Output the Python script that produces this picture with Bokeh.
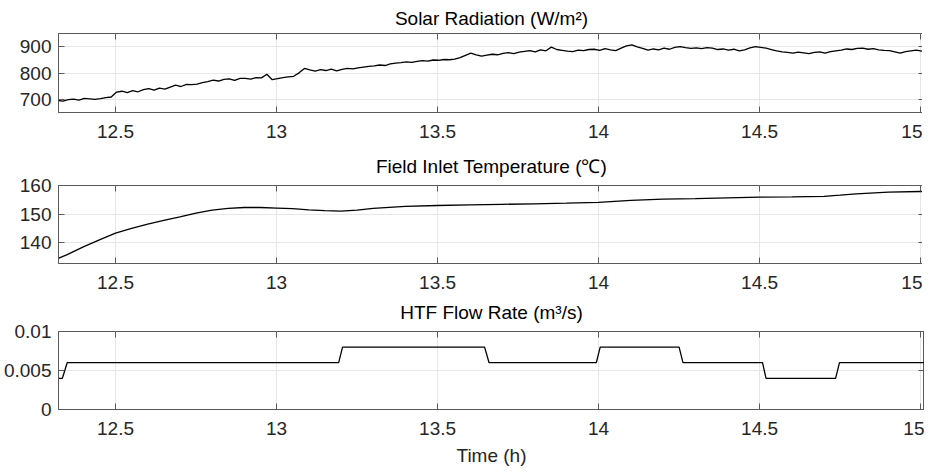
import numpy as np
from bokeh.plotting import figure
from bokeh.layouts import column
from bokeh.models import Range1d, FixedTicker, LinearAxis, Spacer
from bokeh.embed import file_html
from bokeh.resources import INLINE

# ---------------- data ----------------
solar_t0 = 12.32
solar_step = 1.0 / 60.0
solar_values = [
    696, 693, 699, 701, 697, 704, 702, 700, 703, 707, 709,
    728, 731, 726, 733, 729, 737,
    741, 735, 743, 739, 747, 754,
    749, 757, 756, 758, 764, 768,
    773, 770, 776, 778, 772, 780,
    780, 777, 783, 782, 796, 775, 779,
    783, 786, 788, 801, 818, 812,
    808, 813, 810, 815, 809, 814, 818, 816,
    820, 823, 826, 828, 831, 829, 835, 838, 840,
    843, 841, 845, 848, 846, 850, 849, 852, 851,
    853, 859, 868, 876, 870, 865,
    869, 872, 870, 875, 878, 874, 880, 883, 886,
    881, 889, 885, 899, 890, 887, 884,
    882, 888, 886, 890, 891, 887, 893, 889,
    886, 895, 904, 908, 900, 894, 888,
    892, 889, 895, 891, 898, 901, 897, 894, 896, 893,
    897, 895, 890, 892, 888, 891, 885, 889, 896, 901,
    898, 895, 890, 885, 881, 879, 876, 880, 877, 874,
    879, 881, 876, 882, 885, 888, 892, 890, 894, 895,
    891, 893, 889, 887, 886, 881, 876, 882, 885, 888,
    884, 882, 887, 885,
]
solar_time = [solar_t0 + k * solar_step for k in range(len(solar_values))]

temp_time = [12.32, 12.35, 12.40, 12.45, 12.50, 12.55, 12.60, 12.65, 12.70, 12.75,
             12.80, 12.85, 12.90, 12.95, 13.00, 13.05, 13.10, 13.15, 13.20, 13.25,
             13.30, 13.40, 13.50, 13.60, 13.70, 13.80, 13.90, 14.00, 14.10, 14.20,
             14.30, 14.40, 14.50, 14.60, 14.70, 14.75, 14.80, 14.90, 15.00, 15.05]
temp_values = [134.4, 135.8, 138.5, 141.0, 143.3, 145.0, 146.5, 147.8, 149.0, 150.3,
               151.4, 152.0, 152.3, 152.3, 152.1, 151.9, 151.5, 151.2, 151.0, 151.4,
               152.0, 152.7, 153.0, 153.2, 153.4, 153.6, 153.8, 154.1, 154.8, 155.2,
               155.4, 155.7, 155.9, 156.0, 156.2, 156.6, 157.1, 157.7, 157.9, 158.0]

flow_time = [12.32, 12.335, 12.35, 13.193, 13.205, 13.646, 13.66, 13.993, 14.005,
             14.25, 14.262, 14.509, 14.52, 14.736, 14.748, 15.06]
flow_values = [0.004, 0.004, 0.006, 0.006, 0.008, 0.008, 0.006, 0.006, 0.008,
               0.008, 0.006, 0.006, 0.004, 0.004, 0.006, 0.006]

x_ticks = [12.5, 13, 13.5, 14, 14.5, 15]
x_tick_labels = ["12.5", "13", "13.5", "14", "14.5", "15"]
solar_ticks = [700, 800, 900]
solar_tick_labels = ["700", "800", "900"]
temp_ticks = [140, 150, 160]
temp_tick_labels = ["140", "150", "160"]
flow_ticks = [0, 0.005, 0.01]
flow_tick_labels = ["0", "0.005", "0.01"]

titles = ["Solar Radiation (W/m\u00b2)", "Field Inlet Temperature (\u2103)", "HTF Flow Rate (m\u00b3/s)"]

# ---------------- styling ----------------
FONT = "Liberation Sans"
FS = "19px"
AX = "#5a5a5a"
GRID = "#e6e6e6"
TXT = "#262626"
FRAME_W = 866

x_range = Range1d(12.323, 15.012)


def make_panel(title, frame_h, title_standoff, y_start, y_end, yticks, ylabels, xlabel=None):
    p = figure(frame_width=FRAME_W, frame_height=frame_h, x_range=x_range,
               y_range=Range1d(y_start, y_end),
               output_backend="svg", toolbar_location=None,
               min_border_left=56, min_border_right=0,
               min_border_top=0, min_border_bottom=0)
    p.title.text = title
    p.title.text_font = FONT
    p.title.text_font_size = FS
    p.title.text_font_style = "normal"
    p.title.text_color = "#000000"
    p.title.align = "center"
    p.title.standoff = title_standoff
    p.title.offset = 0
    p.outline_line_color = AX
    p.outline_line_alpha = 1.0
    p.background_fill_color = "white"
    p.border_fill_color = "white"

    xt = FixedTicker(ticks=x_ticks)
    yt = FixedTicker(ticks=yticks)
    p.xaxis.ticker = xt
    p.yaxis.ticker = yt
    p.xaxis.major_label_overrides = dict(zip(x_ticks, x_tick_labels))
    p.yaxis.major_label_overrides = dict(zip(yticks, ylabels))
    for ax in (p.xaxis[0], p.yaxis[0]):
        ax.major_label_text_font = FONT
        ax.major_label_text_font_size = FS
        ax.major_label_text_color = TXT
        ax.axis_line_color = AX
        ax.major_tick_line_color = AX
        ax.major_tick_in = 6
        ax.major_tick_out = 0
        ax.minor_tick_line_color = None
    p.xaxis.major_label_standoff = 12
    p.yaxis.major_label_standoff = 7
    if xlabel:
        p.xaxis.axis_label = xlabel
        p.xaxis.axis_label_text_font = FONT
        p.xaxis.axis_label_text_font_size = FS
        p.xaxis.axis_label_text_font_style = "normal"
        p.xaxis.axis_label_text_color = TXT
        p.xaxis.axis_label_standoff = 7

    # box ticks on top and right (labels invisible)
    top_ax = LinearAxis(ticker=FixedTicker(ticks=x_ticks), major_label_text_font_size="1px",
                        major_label_text_color=None,
                        major_label_standoff=0, major_tick_in=6, major_tick_out=0,
                        major_tick_line_color=AX, minor_tick_line_color=None, axis_line_color=None)
    right_ax = LinearAxis(ticker=FixedTicker(ticks=yticks), major_label_text_font_size="1px",
                          major_label_text_color=None,
                          major_label_standoff=0, major_tick_in=6, major_tick_out=0,
                          major_tick_line_color=AX, minor_tick_line_color=None, axis_line_color=None)
    p.add_layout(top_ax, "above")
    p.add_layout(right_ax, "right")

    p.xgrid.ticker = xt
    p.ygrid.ticker = yt
    p.xgrid.grid_line_color = GRID
    p.ygrid.grid_line_color = GRID
    return p


p1 = make_panel(titles[0], 79, 10, 650, 951, solar_ticks, solar_tick_labels)
p1.line(solar_time, solar_values, line_color="black", line_width=1.3)

p2 = make_panel(titles[1], 78, 17, 132.7, 160, temp_ticks, temp_tick_labels)
p2.line(temp_time, temp_values, line_color="black", line_width=1.3)

p3 = make_panel(titles[2], 78, 17, 0, 0.01, flow_ticks, flow_tick_labels, xlabel="Time (h)")
p3.line(flow_time, flow_values, line_color="black", line_width=1.3)

layout = column(p1, Spacer(width=10, height=5), p2, p3, spacing=0)
open("out.html", "w").write(file_html(layout, INLINE))
